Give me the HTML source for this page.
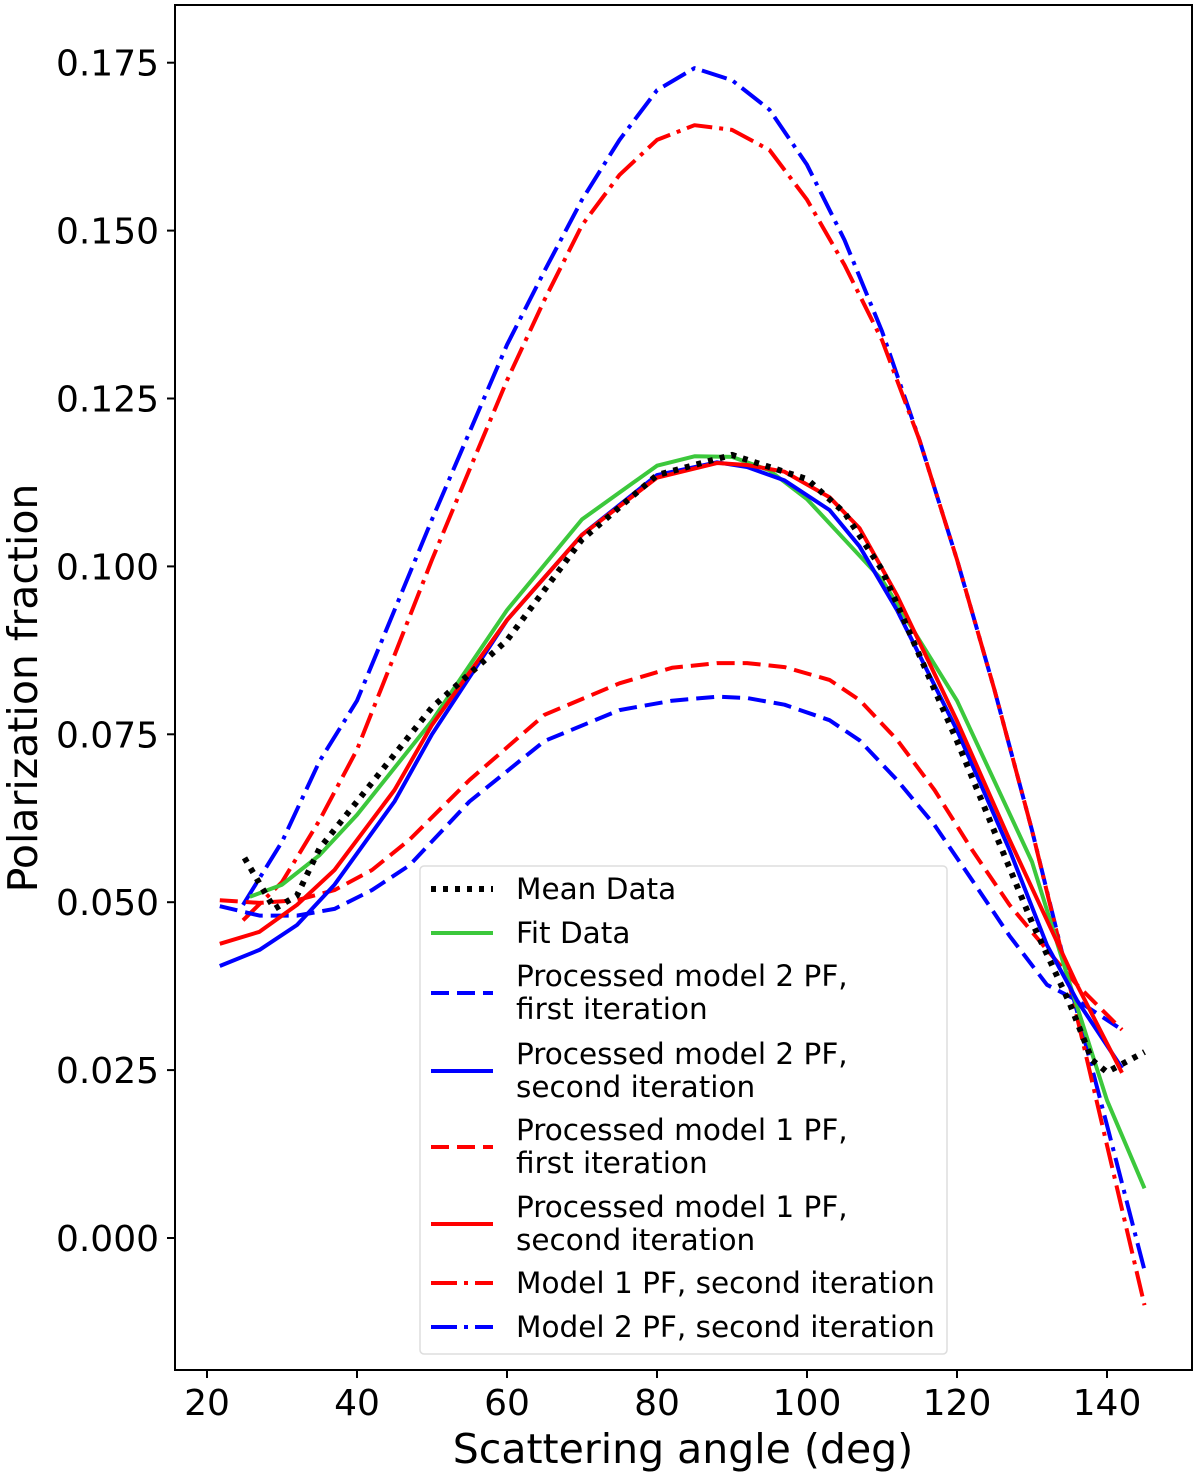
<!DOCTYPE html>
<html><head><meta charset="utf-8"><style>
body{margin:0;background:#fff}
svg text{font-family:"DejaVu Sans","Liberation Sans",sans-serif;fill:#000}
</style></head><body>
<svg id="chart" width="1200" height="1477" viewBox="0 0 1200 1477" xmlns="http://www.w3.org/2000/svg">
<rect x="175" y="5" width="1017" height="1365" fill="none" stroke="#000" stroke-width="2"/>
<g id="series"></g>
<g id="axes"></g>
<g id="legend"></g>
</svg>
<script>
const xTicks=[20,40,60,80,100,120,140];
const yTicks=[0,0.025,0.05,0.075,0.1,0.125,0.15,0.175];
const meanX=[25,29,32,35,40,50,60,70,80,90,100,105,110,120,130,135,138,140,145];
const meanY=[0.0566,0.049,0.051,0.058,0.065,0.079,0.089,0.104,0.1136,0.1166,0.113,0.108,0.0995,0.074,0.047,0.035,0.0265,0.0247,0.0277];
const fitX=[25.7,30,35,40,50,60,70,75,80,85,90,95,100,110,120,130,135,140,145];
const fitY=[0.0508,0.0526,0.057,0.063,0.077,0.0935,0.107,0.111,0.115,0.1164,0.1163,0.1143,0.110,0.098,0.080,0.056,0.038,0.0205,0.0074];
const procX=[21.7,27,32,37,42,47,55,65,75,82,88,92,97,103,107,112,117,122,127,132,136,142];
const p2firstY=[0.0494,0.048,0.048,0.049,0.0518,0.0555,0.065,0.074,0.0786,0.080,0.0806,0.0804,0.0794,0.0771,0.0741,0.0682,0.0615,0.0533,0.045,0.0377,0.0354,0.031];
const p1firstY=[0.0503,0.0499,0.0503,0.0518,0.0548,0.0593,0.0682,0.0779,0.0826,0.0849,0.0856,0.0856,0.085,0.0831,0.0801,0.0742,0.0667,0.0578,0.0496,0.0429,0.0377,0.031];
const secX=[21.7,27,32,37,45,50,60,70,80,88,92,97,103,107,112,120,127,132,136,142];
const p2secY=[0.0405,0.0429,0.0466,0.0526,0.065,0.075,0.092,0.1047,0.1136,0.1155,0.1148,0.1128,0.1084,0.103,0.0935,0.0756,0.0578,0.0436,0.0354,0.0253];
const p1secY=[0.0438,0.0456,0.0496,0.0548,0.0667,0.0764,0.092,0.1047,0.1132,0.1154,0.1151,0.1141,0.1103,0.1057,0.0957,0.077,0.0593,0.0473,0.0377,0.0246];
const modX=[24.8,30,35,40,45,50,55,60,65,70,75,80,85,90,95,100,105,110,115,120,125,130,135,140,145];
const m2Y=[0.0496,0.059,0.071,0.080,0.0935,0.107,0.120,0.133,0.144,0.1546,0.1635,0.1709,0.1742,0.1724,0.168,0.1598,0.1486,0.135,0.1188,0.101,0.0816,0.0607,0.038,0.0168,-0.0048];
const m1Y=[0.0473,0.053,0.0622,0.0727,0.0868,0.101,0.1144,0.1277,0.1397,0.1508,0.1583,0.1635,0.1657,0.165,0.162,0.1546,0.1449,0.1337,0.1188,0.101,0.0816,0.0607,0.0377,0.0138,-0.01];

const NS="http://www.w3.org/2000/svg";
function X(v){return 207+(v-20)*7.5;}
function Y(v){return 1238-v*6716;}
function mk(tag,attrs,parent){const e=document.createElementNS(NS,tag);for(const k in attrs)e.setAttribute(k,attrs[k]);parent.appendChild(e);return e;}
const axes=document.getElementById('axes');
xTicks.forEach(t=>{
  const l=mk('line',{x1:X(t),x2:X(t),y1:1370,y2:1378,stroke:'#000','stroke-width':2},axes);
  
  
  const tx=mk('text',{x:X(t),y:1415,'text-anchor':'middle','font-size':36},axes);
  tx.textContent=t;
  
  
});
yTicks.forEach(t=>{
  const l=mk('line',{x1:167,x2:175,y1:Y(t),y2:Y(t),stroke:'#000','stroke-width':2},axes);
  
  
  const tx=mk('text',{x:159,y:Y(t)+13,'text-anchor':'end','font-size':36},axes);
  tx.textContent=t.toFixed(3);
  
  
});
const xl=mk('text',{x:683,y:1463,'text-anchor':'middle','font-size':41},axes);
xl.textContent='Scattering angle (deg)';


const yl=mk('text',{x:0,y:0,'text-anchor':'middle','font-size':41,transform:'translate(37,688) rotate(-90)'},axes);
yl.textContent='Polarization fraction';



const BLUE='#0000ff',RED='#ff0000',GREEN='#3cc83c';
const DASH='18,8',DDOT='26,7,4,7',DOT='5,7';
const series=[
 {n:'model-2-pf-second',x:modX,y:m2Y,c:BLUE,d:DDOT,w:4},
 {n:'model-1-pf-second',x:modX,y:m1Y,c:RED,d:DDOT,w:4},
 {n:'processed-model-2-first',x:procX,y:p2firstY,c:BLUE,d:DASH,w:4},
 {n:'processed-model-1-first',x:procX,y:p1firstY,c:RED,d:DASH,w:4},
 {n:'fit-data',x:fitX,y:fitY,c:GREEN,d:'',w:4},
 {n:'processed-model-2-second',x:secX,y:p2secY,c:BLUE,d:'',w:4},
 {n:'processed-model-1-second',x:secX,y:p1secY,c:RED,d:'',w:4},
 {n:'mean-data',x:meanX,y:meanY,c:'#000',d:DOT,w:6},
];
const sg=document.getElementById('series');
series.forEach(s=>{
  const pts=s.x.map((v,i)=>X(v).toFixed(1)+','+Y(s.y[i]).toFixed(1)).join(' ');
  const a={points:pts,fill:'none',stroke:s.c,'stroke-width':s.w,'stroke-linejoin':'round'};
  if(s.d)a['stroke-dasharray']=s.d;
  const p=mk('polyline',a,sg);
  
  
});

const lg=document.getElementById('legend');
mk('rect',{x:420,y:866,width:527,height:488,rx:4,fill:'#fff','fill-opacity':0.85,stroke:'#ddd','stroke-width':1.5},lg);
const entries=[
 {l:['Mean Data'],c:'#000',d:DOT,w:6,y:889},
 {l:['Fit Data'],c:GREEN,d:'',w:4,y:933},
 {l:['Processed model 2 PF,','first iteration'],c:BLUE,d:DASH,w:4,y:976},
 {l:['Processed model 2 PF,','second iteration'],c:BLUE,d:'',w:4,y:1054},
 {l:['Processed model 1 PF,','first iteration'],c:RED,d:DASH,w:4,y:1130},
 {l:['Processed model 1 PF,','second iteration'],c:RED,d:'',w:4,y:1207},
 {l:['Model 1 PF, second iteration'],c:RED,d:DDOT,w:4,y:1283},
 {l:['Model 2 PF, second iteration'],c:BLUE,d:DDOT,w:4,y:1327},
];
entries.forEach(e=>{
  const ly=e.l.length>1?e.y+17:e.y;
  const a={x1:431,x2:493,y1:ly,y2:ly,stroke:e.c,'stroke-width':e.w};
  if(e.d)a['stroke-dasharray']=e.d;
  const ln=mk('line',a,lg);
  
  
  e.l.forEach((t,i)=>{
    const tx=mk('text',{x:516,y:e.y+10+i*33,'font-size':29.5},lg);
    tx.textContent=t;
    
    
  });
});
</script>
</body></html>
